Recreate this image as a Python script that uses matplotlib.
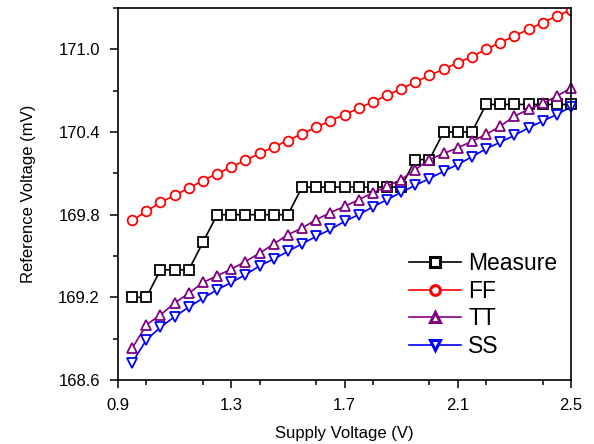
import matplotlib
matplotlib.use("Agg")
import matplotlib.pyplot as plt
from matplotlib.ticker import MultipleLocator

plt.rcParams['font.family'] = ['Liberation Sans', 'DejaVu Sans']

supply_v = [0.95, 1.00, 1.05, 1.10, 1.15, 1.20, 1.25, 1.30, 1.35, 1.40, 1.45, 1.50,
            1.55, 1.60, 1.65, 1.70, 1.75, 1.80, 1.85, 1.90, 1.95, 2.00, 2.05, 2.10,
            2.15, 2.20, 2.25, 2.30, 2.35, 2.40, 2.45, 2.50]

measure = [169.2, 169.2, 169.4, 169.4, 169.4, 169.6, 169.8, 169.8, 169.8, 169.8, 169.8, 169.8,
           170.0, 170.0, 170.0, 170.0, 170.0, 170.0, 170.0, 170.0, 170.2, 170.2, 170.4, 170.4,
           170.4, 170.6, 170.6, 170.6, 170.6, 170.6, 170.6, 170.6]

ff = [169.759, 169.824, 169.890, 169.940, 169.994, 170.047, 170.098, 170.146, 170.195, 170.244,
      170.292, 170.338, 170.387, 170.435, 170.482, 170.527, 170.571, 170.620, 170.665, 170.714,
      170.762, 170.811, 170.855, 170.903, 170.947, 171.000, 171.049, 171.097, 171.145, 171.194,
      171.242, 171.286]

tt = [168.830, 169.000, 169.073, 169.158, 169.230, 169.308, 169.356, 169.405, 169.460, 169.521,
      169.587, 169.655, 169.703, 169.764, 169.815, 169.860, 169.909, 169.958, 170.006, 170.055,
      170.127, 170.200, 170.244, 170.285, 170.333, 170.382, 170.442, 170.515, 170.564, 170.607,
      170.660, 170.721]

ss = [168.726, 168.891, 168.983, 169.060, 169.129, 169.194, 169.255, 169.308, 169.364, 169.429,
      169.478, 169.533, 169.589, 169.642, 169.693, 169.751, 169.800, 169.856, 169.909, 169.962,
      170.013, 170.062, 170.115, 170.164, 170.220, 170.278, 170.326, 170.375, 170.431, 170.479,
      170.527, 170.583]

x_ticks = [0.9, 1.3, 1.7, 2.1, 2.5]
y_ticks = [168.6, 169.2, 169.8, 170.4, 171.0]

fig = plt.figure(figsize=(5.94, 4.44), dpi=100)
ax = fig.add_axes([0.1987, 0.1441, 0.7626, 0.8379])

series = [
    ("Measure", measure, "black", "s"),
    ("FF", ff, "#ff0000", "o"),
    ("TT", tt, "#800080", "^"),
    ("SS", ss, "#0000ff", "v"),
]
for label, vals, col, mk in series:
    ax.plot(supply_v, vals, color=col, lw=1.2, marker=mk, markersize=7,
            markerfacecolor="white", markeredgecolor=col, markeredgewidth=1.3,
            label=label, clip_on=(label == "FF"))

ax.set_xlim(0.9, 2.5)
ax.set_ylim(168.6, 171.3)
ax.set_xticks(x_ticks)
ax.set_xticklabels([f"{v:.1f}" for v in x_ticks])
ax.set_yticks(y_ticks)
ax.set_yticklabels([f"{v:.1f}" for v in y_ticks])
ax.xaxis.set_minor_locator(MultipleLocator(0.2))
ax.yaxis.set_minor_locator(MultipleLocator(0.3))
ax.tick_params(which="major", direction="out", length=6, width=1.1, labelsize=12, pad=7)
ax.tick_params(which="minor", direction="out", length=3.5, width=1.1)
for s in ax.spines.values():
    s.set_linewidth(1.2)

ax.set_xlabel("Supply Voltage (V)", fontsize=12, labelpad=9)
ax.set_ylabel("Reference Voltage (mV)", fontsize=12, labelpad=16)

leg = ax.legend(loc="lower right", frameon=False, fontsize=16.5, handlelength=2.3,
                handletextpad=0.3, labelspacing=0.2, borderaxespad=0.0,
                bbox_to_anchor=(0.99, 0.035))
for h in leg.legend_handles:
    h.set_markersize(7)
    h.set_markeredgewidth(2.2)

fig.savefig("out.png", dpi=100)
